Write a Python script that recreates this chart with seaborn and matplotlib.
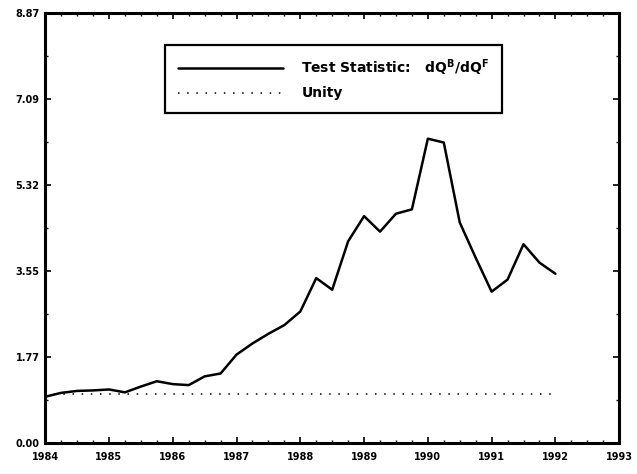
import numpy as np
import pandas as pd
import matplotlib
matplotlib.use("Agg")
import matplotlib.pyplot as plt
import seaborn as sns
from matplotlib.ticker import MultipleLocator

# ---- data ----
quarters = np.arange(1984.0, 1992.01, 0.25)
test_stat = [0.95, 1.03, 1.07, 1.08, 1.10, 1.04, 1.16, 1.27, 1.21,
             1.19, 1.37, 1.43, 1.82, 2.05, 2.25, 2.43, 2.71, 3.40,
             3.16, 4.16, 4.68, 4.36, 4.73, 4.82, 6.28, 6.20, 4.55,
             3.82, 3.12, 3.37, 4.10, 3.72, 3.49]
unity_x = [1984.0, 1992.0]
unity_y = [1.0, 1.0]
ytick_vals = [0.0, 1.774, 3.548, 5.322, 7.096, 8.87]
ytick_labels = ["0.00", "1.77", "3.55", "5.32", "7.09", "8.87"]
xtick_vals = [1984, 1985, 1986, 1987, 1988, 1989, 1990, 1991, 1992, 1993]
series_labels = [r"Test Statistic:   $dQ^B/dQ^F$", "Unity"]

df = pd.DataFrame({"year": quarters, "value": test_stat})
df_u = pd.DataFrame({"year": unity_x, "value": unity_y})

sns.set_style("ticks")
plt.rcParams["font.family"] = ["DejaVu Sans"]
plt.rcParams["mathtext.fontset"] = "dejavusans"
plt.rcParams["mathtext.default"] = "bf"
plt.rcParams["text.color"] = "black"
plt.rcParams["xtick.color"] = "black"
plt.rcParams["ytick.color"] = "black"
plt.rcParams["xtick.labelcolor"] = "black"
plt.rcParams["ytick.labelcolor"] = "black"

fig = plt.figure(figsize=(6.37, 4.74), dpi=100)
ax = fig.add_axes([0.071, 0.066, 0.901, 0.906])

sns.lineplot(data=df, x="year", y="value", ax=ax, color="black",
             linewidth=1.8, label=series_labels[0])
sns.lineplot(data=df_u, x="year", y="value", ax=ax, color="black",
             linewidth=1.1, linestyle=(0, (1, 5)), label=series_labels[1])

ax.set_xlim(1984, 1993)
ax.set_ylim(0, 8.87)
ax.set_xticks(xtick_vals)
ax.set_xticklabels([str(v) for v in xtick_vals], fontsize=7, fontweight="bold")
ax.set_yticks(ytick_vals)
ax.set_yticklabels(ytick_labels, fontsize=7, fontweight="bold")
ax.xaxis.set_minor_locator(MultipleLocator(0.25))
ax.yaxis.set_minor_locator(MultipleLocator(0.887))
ax.set_xlabel("")
ax.set_ylabel("")

for s in ax.spines.values():
    s.set_visible(True)
    s.set_linewidth(2.2)
    s.set_color("black")
ax.tick_params(which="major", direction="in", length=4, width=1.2,
               top=True, right=True, pad=4, colors="black")
ax.tick_params(which="minor", direction="in", length=2, width=1,
               top=True, right=True, colors="black")
ax.tick_params(axis="x", which="major", pad=7)

leg = ax.legend(loc="upper left", bbox_to_anchor=(0.209, 0.926),
                borderaxespad=0.0,
                frameon=True, fancybox=False, handlelength=7.6,
                handletextpad=1.3, borderpad=0.9, labelspacing=0.6,
                prop={"weight": "bold", "size": 10})
leg.get_frame().set_edgecolor("black")
leg.get_frame().set_linewidth(1.6)
leg.get_frame().set_alpha(1)
for t in leg.get_texts():
    t.set_color("black")

fig.savefig("out.png", dpi=100)
